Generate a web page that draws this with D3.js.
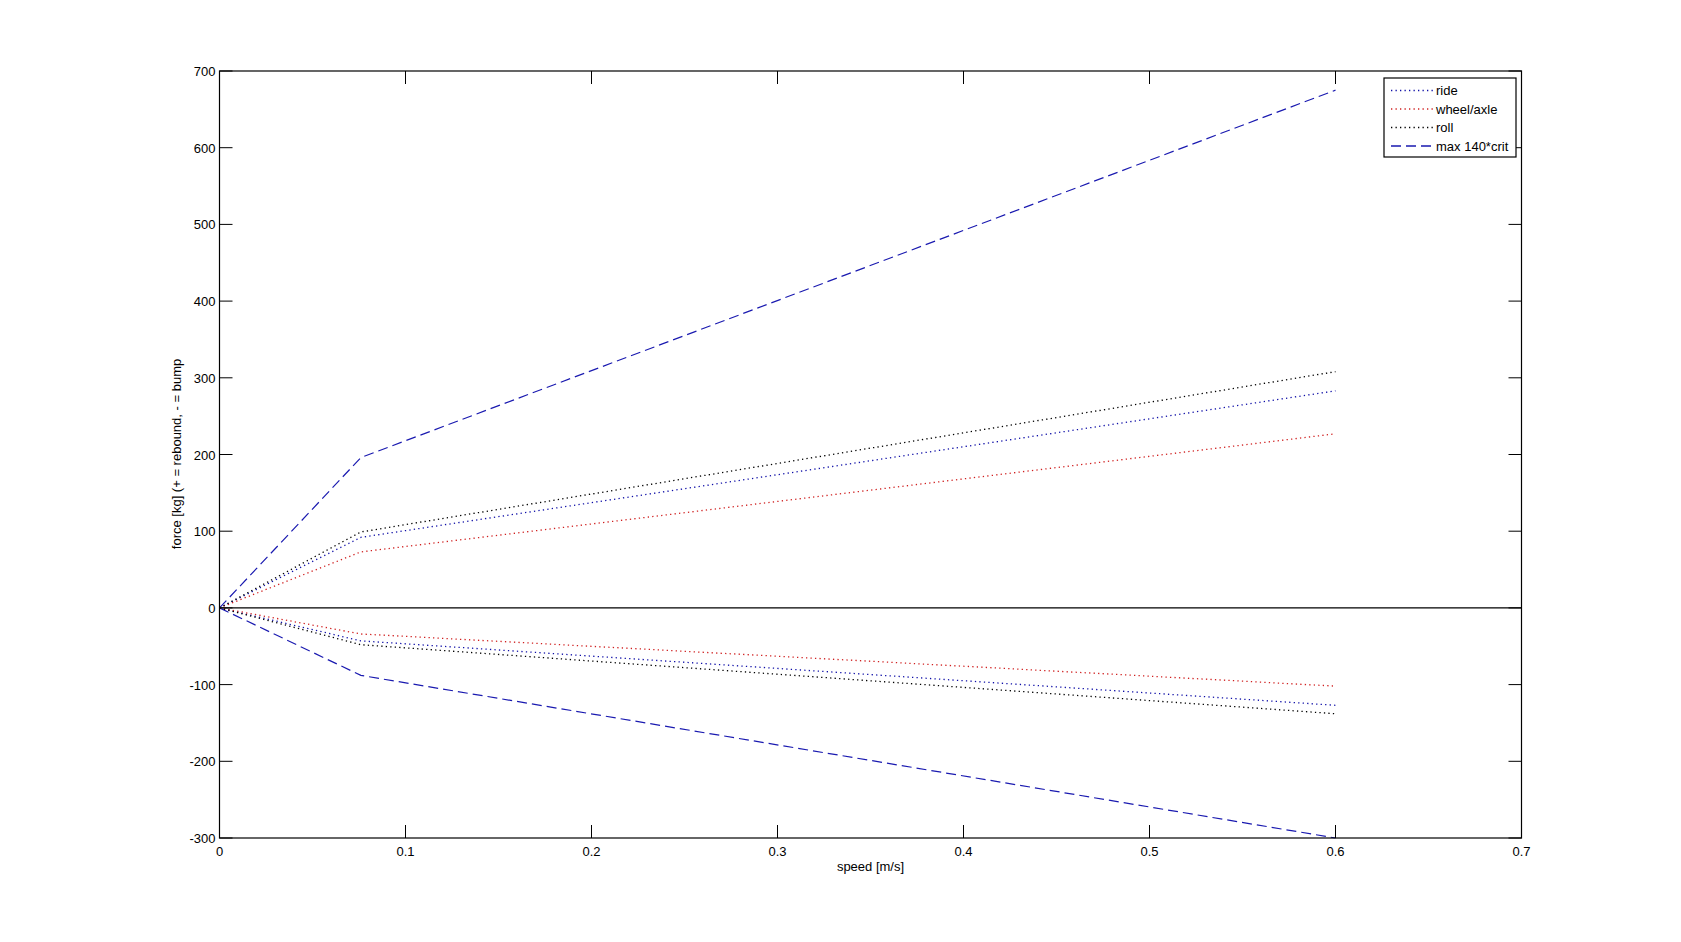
<!DOCTYPE html>
<html><head><meta charset="utf-8">
<script src="https://cdn.jsdelivr.net/npm/d3@7"></script>
<style>
body{margin:0;background:#fff;}
text{font-family:"Liberation Sans",Arial,sans-serif;}
</style></head>
<body><svg id="c" width="1681" height="942"></svg>
<script>
const speeds = [0, 0.076, 0.6];
const rideUp = [0, 92, 283];
const wheelUp = [0, 73, 227];
const rollUp = [0, 99, 308];
const rideDown = [0, -43, -127];
const wheelDown = [0, -34, -102];
const rollDown = [0, -48, -138];
const maxUp = [0, 196, 675];
const maxDown = [0, -88, -300];
const zeroX = [0, 0.7];
const zeroY = [0, 0];
const xTicks = [0, 0.1, 0.2, 0.3, 0.4, 0.5, 0.6, 0.7];
const yTicks = [-300, -200, -100, 0, 100, 200, 300, 400, 500, 600, 700];
const legendLabels = ["ride", "wheel/axle", "roll", "max 140*crit"];

const svg = d3.select("#c");
const L = 219.5, R = 1521.5, T = 71, B = 838;
const x = d3.scaleLinear().domain([0, 0.7]).range([L, R]);
const y = d3.scaleLinear().domain([-300, 700]).range([B, T]);

const colBlue = "#1010a8", colRed = "#d02020", colBlack = "#000", colDash = "#1a1ab0";
const series = [
  {xs: zeroX, ys: zeroY, c: "#000", d: null, w: 1.2},
  {xs: speeds, ys: maxUp, c: colDash, d: "10,5", w: 1.2},
  {xs: speeds, ys: maxDown, c: colDash, d: "10,5", w: 1.2},
  {xs: speeds, ys: rideUp, c: colBlue, d: "1.3,3.2", w: 1.3},
  {xs: speeds, ys: wheelUp, c: colRed, d: "1.3,3.2", w: 1.3},
  {xs: speeds, ys: rollUp, c: colBlack, d: "1.3,3.2", w: 1.3},
  {xs: speeds, ys: rideDown, c: colBlue, d: "1.3,3.2", w: 1.3},
  {xs: speeds, ys: wheelDown, c: colRed, d: "1.3,3.2", w: 1.3},
  {xs: speeds, ys: rollDown, c: colBlack, d: "1.3,3.2", w: 1.3}
];
const line = d3.line().x(d => x(d[0])).y(d => y(d[1]));
series.forEach(s => {
  svg.append("path").datum(s.xs.map((v, i) => [v, s.ys[i]]))
    .attr("d", line).attr("fill", "none").attr("stroke", s.c)
    .attr("stroke-width", s.w).attr("stroke-dasharray", s.d);
});

// axes box and ticks
const tl = 13;
const g = svg.append("g");
g.append("rect").attr("x", L).attr("y", T).attr("width", R - L).attr("height", B - T)
  .attr("fill", "none").attr("stroke", "#000").attr("stroke-width", 1.2);
xTicks.forEach(t => {
  const px = x(t);
  g.append("line").attr("x1", px).attr("x2", px).attr("y1", B).attr("y2", B - tl).attr("stroke", "#000");
  g.append("line").attr("x1", px).attr("x2", px).attr("y1", T).attr("y2", T + tl).attr("stroke", "#000");
  g.append("text").attr("x", px).attr("y", B + 18).attr("text-anchor", "middle")
    .attr("font-size", 13).text(d3.format("~g")(t));
});
yTicks.forEach(t => {
  const py = y(t);
  g.append("line").attr("x1", L).attr("x2", L + tl).attr("y1", py).attr("y2", py).attr("stroke", "#000");
  g.append("line").attr("x1", R).attr("x2", R - tl).attr("y1", py).attr("y2", py).attr("stroke", "#000");
  g.append("text").attr("x", L - 4).attr("y", py + 5).attr("text-anchor", "end")
    .attr("font-size", 13).text(t);
});
svg.append("text").attr("x", x(0.35)).attr("y", 871).attr("text-anchor", "middle")
  .attr("font-size", 13).text("speed [m/s]");
svg.append("text").attr("transform", `translate(181,454) rotate(-90)`)
  .attr("text-anchor", "middle").attr("font-size", 13).text("force [kg] (+ = rebound, - = bump");

// legend
const lg = svg.append("g");
lg.append("rect").attr("x", 1384).attr("y", 78).attr("width", 132).attr("height", 79)
  .attr("fill", "#fff").attr("stroke", "#000").attr("stroke-width", 1.2);
const legCols = [colBlue, colRed, colBlack, colDash];
const legDash = ["1.3,3.2", "1.3,3.2", "1.3,3.2", "10,5"];
legendLabels.forEach((lab, i) => {
  const ly = 90.5 + i * 18.5;
  lg.append("line").attr("x1", 1391).attr("x2", 1434).attr("y1", ly).attr("y2", ly)
    .attr("stroke", legCols[i]).attr("stroke-width", 1.3).attr("stroke-dasharray", legDash[i]);
  lg.append("text").attr("x", 1436).attr("y", ly + 4.5).attr("font-size", 13).text(lab);
});
</script></body></html>
